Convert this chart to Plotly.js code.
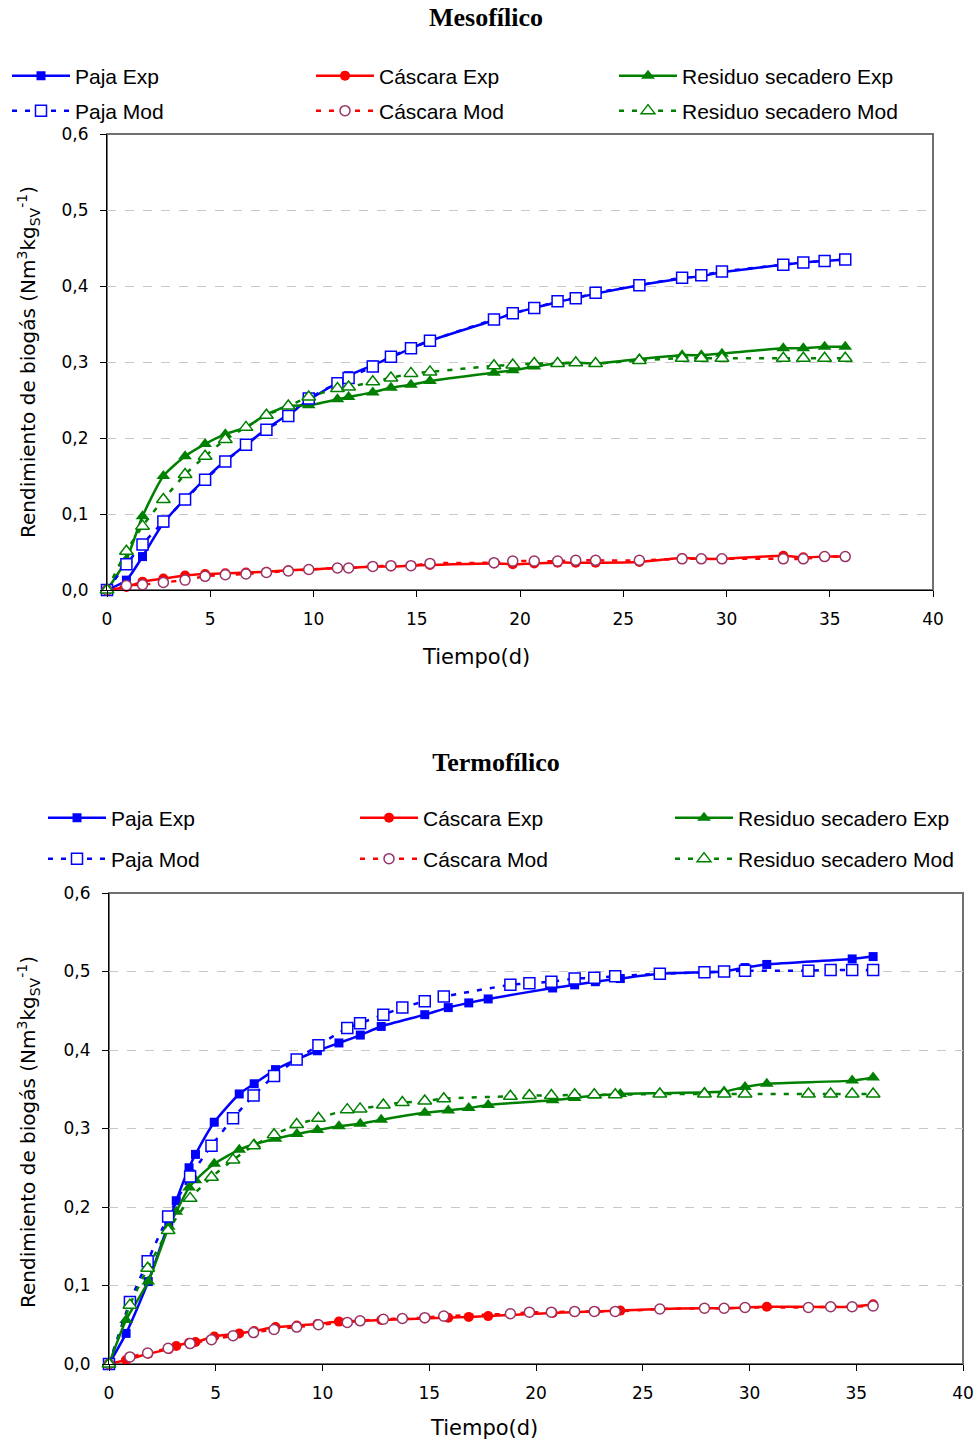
<!DOCTYPE html>
<html>
<head>
<meta charset="utf-8">
<script src="https://cdn.plot.ly/plotly-3.0.1.min.js"></script>
<style>
  html, body { margin: 0; padding: 0; background: #fff; }
  #meso { width: 977px; height: 700px; }
  #termo { width: 977px; height: 746px; }
</style>
</head>
<body>
<div id="meso"></div>
<div id="termo"></div>
<script>
// ---------- Mesofílico ----------
const mesoDays = [0, 0.94, 1.72, 2.73, 3.78, 4.75, 5.73, 6.73, 7.72, 8.78, 9.77, 11.16, 11.7, 12.87, 13.75, 14.72, 15.64, 18.74, 19.65, 20.69, 21.82, 22.7, 23.66, 25.78, 27.85, 28.78, 29.78, 32.75, 33.72, 34.75, 35.75];
const mesoPajaExp = [0, 0.013, 0.044, 0.088, 0.120, 0.146, 0.170, 0.191, 0.212, 0.231, 0.250, 0.273, 0.282, 0.296, 0.306, 0.318, 0.328, 0.355, 0.364, 0.371, 0.379, 0.384, 0.390, 0.401, 0.410, 0.413, 0.418, 0.428, 0.431, 0.433, 0.435];
const mesoCascaraExp = [0, 0.004, 0.011, 0.015, 0.019, 0.021, 0.022, 0.023, 0.024, 0.026, 0.027, 0.029, 0.029, 0.031, 0.031, 0.032, 0.033, 0.035, 0.034, 0.035, 0.036, 0.036, 0.036, 0.037, 0.042, 0.041, 0.041, 0.045, 0.043, 0.044, 0.044];
const mesoResiduoExp = [0, 0.040, 0.097, 0.150, 0.176, 0.192, 0.205, 0.214, 0.231, 0.242, 0.243, 0.251, 0.254, 0.260, 0.266, 0.270, 0.275, 0.286, 0.289, 0.294, 0.298, 0.299, 0.298, 0.304, 0.309, 0.309, 0.311, 0.318, 0.318, 0.320, 0.320];
const mesoPajaMod = [0, 0.034, 0.060, 0.090, 0.119, 0.145, 0.169, 0.191, 0.211, 0.229, 0.252, 0.272, 0.279, 0.294, 0.307, 0.318, 0.328, 0.356, 0.364, 0.371, 0.380, 0.384, 0.391, 0.401, 0.411, 0.414, 0.419, 0.428, 0.431, 0.433, 0.435];
const mesoCascaraMod = [0, 0.006, 0.007, 0.010, 0.013, 0.018, 0.020, 0.021, 0.023, 0.025, 0.027, 0.029, 0.029, 0.031, 0.032, 0.032, 0.035, 0.036, 0.038, 0.038, 0.038, 0.039, 0.039, 0.039, 0.041, 0.041, 0.041, 0.041, 0.041, 0.044, 0.044];
const mesoResiduoMod = [0, 0.051, 0.084, 0.119, 0.152, 0.176, 0.198, 0.214, 0.230, 0.242, 0.254, 0.265, 0.267, 0.274, 0.279, 0.285, 0.287, 0.295, 0.296, 0.298, 0.298, 0.299, 0.298, 0.302, 0.305, 0.305, 0.305, 0.305, 0.305, 0.305, 0.305];

// ---------- Termofílico ----------
const termoExpDays = [0, 0.8, 1.84, 2.8, 3.15, 3.75, 4.05, 4.93, 6.1, 6.8, 7.8, 8.8, 9.76, 10.77, 11.77, 12.75, 14.79, 15.89, 16.85, 17.76, 20.78, 21.81, 22.78, 23.95, 25.8, 27.89, 28.81, 29.79, 30.81, 34.81, 35.79];
const termoPajaExp = [0, 0.039, 0.105, 0.180, 0.208, 0.250, 0.267, 0.308, 0.344, 0.357, 0.375, 0.388, 0.399, 0.409, 0.419, 0.430, 0.445, 0.454, 0.460, 0.465, 0.479, 0.483, 0.487, 0.491, 0.497, 0.499, 0.500, 0.505, 0.509, 0.516, 0.519];
const termoCascaraExp = [0, 0.005, 0.013, 0.019, 0.023, 0.027, 0.028, 0.035, 0.039, 0.042, 0.047, 0.049, 0.051, 0.054, 0.055, 0.056, 0.058, 0.059, 0.060, 0.061, 0.065, 0.066, 0.067, 0.068, 0.070, 0.071, 0.071, 0.072, 0.073, 0.073, 0.076];
const termoResiduoExp = [0, 0.056, 0.105, 0.175, 0.194, 0.225, 0.234, 0.255, 0.273, 0.280, 0.287, 0.293, 0.298, 0.303, 0.306, 0.311, 0.320, 0.323, 0.326, 0.330, 0.336, 0.339, 0.342, 0.344, 0.345, 0.346, 0.347, 0.353, 0.357, 0.361, 0.365];
const termoModDays = [0, 0.98, 1.81, 2.77, 3.80, 4.80, 5.81, 6.77, 7.73, 8.79, 9.81, 11.16, 11.76, 12.85, 13.74, 14.79, 15.68, 18.8, 19.69, 20.72, 21.81, 22.73, 23.71, 25.8, 27.89, 28.81, 29.79, 32.76, 33.8, 34.81, 35.79];
const termoPajaMod = [0, 0.079, 0.131, 0.188, 0.239, 0.278, 0.313, 0.342, 0.367, 0.388, 0.406, 0.428, 0.434, 0.445, 0.454, 0.462, 0.468, 0.483, 0.485, 0.487, 0.491, 0.492, 0.494, 0.497, 0.499, 0.500, 0.501, 0.501, 0.502, 0.502, 0.502];
const termoCascaraMod = [0, 0.009, 0.014, 0.020, 0.026, 0.031, 0.036, 0.040, 0.044, 0.047, 0.050, 0.053, 0.055, 0.057, 0.058, 0.059, 0.061, 0.064, 0.066, 0.066, 0.067, 0.067, 0.067, 0.070, 0.071, 0.071, 0.072, 0.072, 0.073, 0.073, 0.074];
const termoResiduoMod = [0, 0.075, 0.122, 0.170, 0.211, 0.238, 0.260, 0.278, 0.292, 0.305, 0.313, 0.324, 0.325, 0.330, 0.333, 0.335, 0.338, 0.341, 0.342, 0.342, 0.343, 0.343, 0.343, 0.344, 0.344, 0.344, 0.344, 0.344, 0.344, 0.344, 0.344];

const seriesNames = ['Paja Exp', 'Cáscara Exp', 'Residuo secadero Exp', 'Paja Mod', 'Cáscara Mod', 'Residuo secadero Mod'];
const xTicks = [0, 5, 10, 15, 20, 25, 30, 35, 40];
const yTicks = [0, 0.1, 0.2, 0.3, 0.4, 0.5, 0.6];
const xTitle = 'Tiempo(d)';
const yTitle = 'Rendimiento de biogás (Nm<sup>3</sup>kg<sub>SV</sub><sup>-1</sup>)';

const BLUE = '#0000FF', RED = '#FF0000', GREEN = '#008000', CIRC = '#993366';
const FONT = 'Liberation Sans, Arial, sans-serif';
const WIDE = 'DejaVu Sans, Verdana, sans-serif';

function expTrace(name, x, y, color, symbol, size, leg) {
  return {
    type: 'scatter', mode: 'lines+markers', name: name, x: x, y: y, cliponaxis: false,
    line: { color: color, width: 2.5, shape: 'spline', smoothing: 0.6 },
    marker: { color: color, symbol: symbol, size: size, line: { width: 0 } },
    legend: leg
  };
}
function modTrace(name, x, y, color, edge, symbol, size, leg) {
  return {
    type: 'scatter', mode: 'lines+markers', name: name, x: x, y: y, cliponaxis: false,
    line: { color: color, width: 2.5, dash: '5px,8px', shape: 'spline', smoothing: 0.6 },
    marker: { color: '#FFFFFF', symbol: symbol, size: size, line: { color: edge, width: 1.5 } },
    legend: leg
  };
}

function buildLayout(o) {
  const plotW = 977 - o.l - o.r, plotH = o.h - o.t - o.b;
  const legKeys = ['legend', 'legend2', 'legend3', 'legend4', 'legend5', 'legend6'];
  const layout = {
    width: 977, height: o.h,
    margin: { l: o.l, r: o.r, t: o.t, b: o.b, autoexpand: false },
    paper_bgcolor: '#fff', plot_bgcolor: '#fff',
    separators: ',.',
    showlegend: true,
    title: { text: '<b>' + o.title + '</b>', xref: 'container', yref: 'container',
             x: o.titleX, y: 1 - o.titleY / o.h, xanchor: 'center', yanchor: 'middle',
             font: { family: 'Liberation Serif, Times New Roman, serif', size: 26, color: '#000' } },
    xaxis: {
      range: [0, 40], tickvals: xTicks, ticktext: xTicks.map(String),
      showgrid: false, zeroline: false, showline: true, linecolor: '#000', linewidth: 1,
      ticks: 'outside', ticklen: 6, tickcolor: '#000', ticklabelstandoff: 8,
      tickfont: { family: WIDE, size: 17, color: '#000' },
      fixedrange: true
    },
    yaxis: {
      range: [0, 0.6], tickvals: yTicks, tickformat: '.1f',
      showgrid: true, gridcolor: '#C8C8C8', griddash: 'dash', gridwidth: 1,
      zeroline: false, showline: true, linecolor: '#000', linewidth: 1,
      ticks: 'outside', ticklen: 6, tickcolor: '#000', ticklabelstandoff: 8,
      tickfont: { family: WIDE, size: 17, color: '#000' },
      fixedrange: true
    },
    annotations: [
      { text: xTitle, xref: 'paper', yref: 'paper', showarrow: false,
        x: (o.xTitleX - o.l) / plotW, y: -(o.xTitleY - (o.t + plotH)) / plotH,
        xanchor: 'center', yanchor: 'middle', font: { family: WIDE, size: 21, color: '#000' } },
      { text: yTitle, xref: 'paper', yref: 'paper', showarrow: false, textangle: -90,
        x: (o.yTitleX - o.l) / plotW, y: 1 - (o.yTitleY - o.t) / plotH,
        xanchor: 'center', yanchor: 'middle', font: { family: WIDE, size: 20, color: '#000' } }
    ],
    shapes: [{ type: 'rect', xref: 'paper', yref: 'paper', x0: 0, x1: 1, y0: 0, y1: 1,
               line: { color: '#707070', width: 2 }, layer: 'below' }]
  };
  legKeys.forEach(function (k, i) {
    layout[k] = {
      orientation: 'h', xref: 'container', yref: 'container',
      x: o.legCols[i % 3] / 977, y: 1 - o.legRows[Math.floor(i / 3)] / o.h,
      xanchor: 'left', yanchor: 'middle',
      itemwidth: 58, font: { family: FONT, size: 21, color: '#000' },
      bgcolor: 'rgba(0,0,0,0)', borderwidth: 0, itemclick: false
    };
  });
  return layout;
}

const L = ['legend', 'legend2', 'legend3', 'legend4', 'legend5', 'legend6'];
const mesoData = [
  expTrace(seriesNames[0], mesoDays, mesoPajaExp, BLUE, 'square', 9, L[0]),
  expTrace(seriesNames[1], mesoDays, mesoCascaraExp, RED, 'circle', 10, L[1]),
  expTrace(seriesNames[2], mesoDays, mesoResiduoExp, GREEN, 'triangle-up', 12, L[2]),
  modTrace(seriesNames[3], mesoDays, mesoPajaMod, BLUE, BLUE, 'square', 11, L[3]),
  modTrace(seriesNames[4], mesoDays, mesoCascaraMod, RED, CIRC, 'circle', 10, L[4]),
  modTrace(seriesNames[5], mesoDays, mesoResiduoMod, GREEN, GREEN, 'triangle-up', 12, L[5])
];
const termoData = [
  expTrace(seriesNames[0], termoExpDays, termoPajaExp, BLUE, 'square', 9, L[0]),
  expTrace(seriesNames[1], termoExpDays, termoCascaraExp, RED, 'circle', 10, L[1]),
  expTrace(seriesNames[2], termoExpDays, termoResiduoExp, GREEN, 'triangle-up', 12, L[2]),
  modTrace(seriesNames[3], termoModDays, termoPajaMod, BLUE, BLUE, 'square', 11, L[3]),
  modTrace(seriesNames[4], termoModDays, termoCascaraMod, RED, CIRC, 'circle', 10, L[4]),
  modTrace(seriesNames[5], termoModDays, termoResiduoMod, GREEN, GREEN, 'triangle-up', 12, L[5])
];

Plotly.newPlot('meso', mesoData, buildLayout({
  h: 700, l: 107, r: 44, t: 134, b: 110, title: 'Mesofílico', titleX: 486 / 977, titleY: 17,
  legCols: [7, 311, 614], legRows: [76, 111],
  xTitleX: 476, xTitleY: 657, yTitleX: 28, yTitleY: 362
}), { staticPlot: true });

Plotly.newPlot('termo', termoData, buildLayout({
  h: 746, l: 109, r: 14, t: 193, b: 82, title: 'Termofílico', titleX: 496 / 977, titleY: 62,
  legCols: [43, 355, 670], legRows: [118, 159],
  xTitleX: 484, xTitleY: 728, yTitleX: 28, yTitleY: 432
}), { staticPlot: true });
</script>
</body>
</html>
